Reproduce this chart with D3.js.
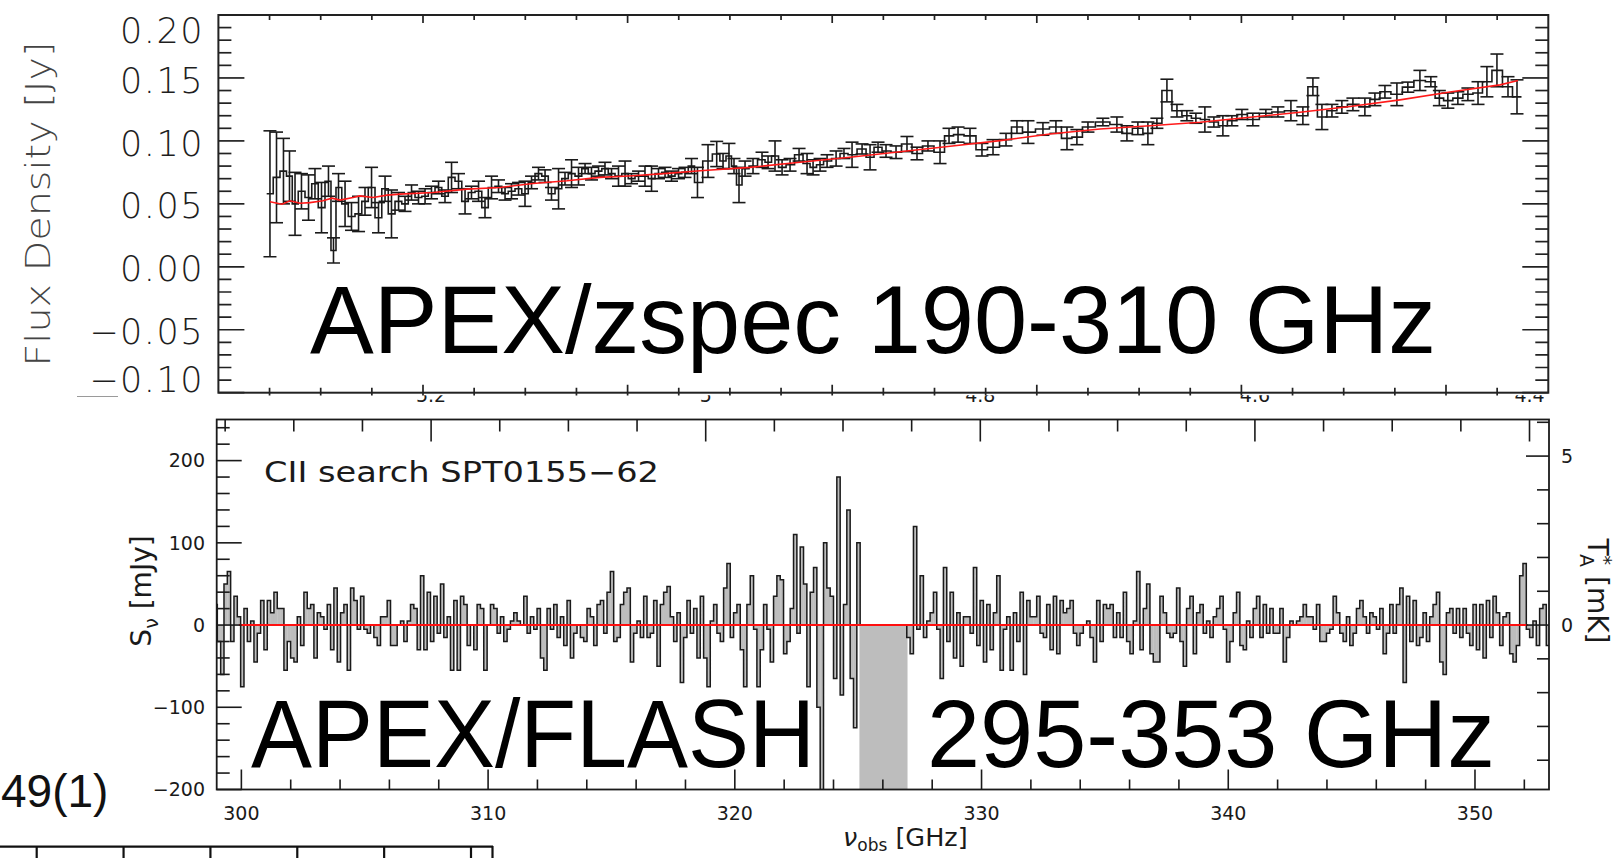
<!DOCTYPE html>
<html><head><meta charset="utf-8">
<script src="https://cdn.jsdelivr.net/npm/d3@7"></script>
<style>html,body{margin:0;padding:0;background:#fff}svg{display:block}</style>
</head><body>
<svg id="fig" width="1616" height="858"></svg>
<script>
// ---------------- Z-Spec continuum spectrum (Jy) ----------------
const zspecFreq = [
185.04,185.68,186.36,186.95,187.49,188.12,188.81,189.44,190.08,190.76,
191.25,191.74,192.38,193.01,193.70,194.33,194.97,195.65,196.29,196.92,
197.61,198.24,198.88,199.56,200.20,200.83,201.52,202.15,202.79,203.47,
204.11,204.74,205.43,206.06,206.70,207.38,208.02,208.65,209.34,209.97,
210.61,211.29,211.93,212.56,213.25,213.88,214.52,215.20,215.84,216.47,
217.16,217.79,218.43,219.11,219.75,220.38,221.07,221.70,222.34,223.02,
223.66,224.29,224.98,225.61,226.25,226.83,
227.86,228.71,229.33,229.91,230.40,230.89,231.48,232.26,233.14,233.73,
234.41,235.10,235.88,236.76,237.54,238.13,238.81,239.50,240.38,241.15,
241.94,242.92,243.70,244.48,245.26,246.24,247.31,248.29,249.36,250.54,
251.42,252.30,253.47,254.64,255.72,256.99,258.06,259.14,260.60,261.87,
262.95,263.92,265.00,266.46,267.83,268.81,269.88,270.86,271.74,
272.72,273.70,274.67,275.55,276.43,277.31,278.19,279.07,280.05,281.12,
282.39,283.57,284.84,286.01,286.99,287.87,288.85,289.82,290.90,292.07,
293.05,294.03,295.20,296.27,297.45,298.52,299.35,300.18,301.16,302.14,
303.13,304.00,304.98,306.06,306.94];
const zspecFlux = [
0.058,0.071,0.076,0.072,0.050,0.060,0.055,0.066,0.047,0.068,
0.013,0.063,0.050,0.040,0.042,0.052,0.063,0.039,0.062,0.042,
0.052,0.050,0.059,0.055,0.056,0.059,0.063,0.056,0.071,0.068,
0.052,0.059,0.060,0.047,0.063,0.064,0.058,0.060,0.062,0.058,
0.067,0.074,0.072,0.058,0.062,0.070,0.074,0.072,0.078,0.074,
0.076,0.078,0.074,0.072,0.074,0.070,0.072,0.072,0.070,0.074,
0.075,0.072,0.074,0.075,0.080,0.067,
0.084,0.0896,0.084,0.088,0.080,0.065,0.078,0.080,0.085,0.083,
0.088,0.079,0.081,0.089,0.082,0.079,0.081,0.084,0.086,0.090,
0.089,0.0936,0.087,0.095,0.092,0.091,0.0975,0.090,0.096,0.091,
0.104,0.105,0.104,0.093,0.095,0.101,0.111,0.107,0.1095,0.111,
0.102,0.103,0.111,0.115,0.113,0.106,0.110,0.106,0.114,
0.140,0.124,0.120,0.118,0.117,0.115,0.112,0.116,0.121,0.117,
0.122,0.123,0.124,0.120,0.143,0.119,0.124,0.127,0.129,0.127,
0.133,0.139,0.137,0.1427,0.148,0.147,0.134,0.132,0.134,0.137,
0.138,0.147,0.156,0.143,0.135];
const zspecErr = [
0.050,0.036,0.026,0.020,0.025,0.014,0.018,0.012,0.020,0.012,
0.010,0.011,0.018,0.011,0.014,0.011,0.016,0.012,0.010,0.019,
0.007,0.006,0.006,0.005,0.006,0.005,0.005,0.005,0.012,0.006,
0.010,0.005,0.008,0.008,0.009,0.005,0.005,0.006,0.005,0.010,
0.005,0.005,0.005,0.005,0.016,0.005,0.011,0.007,0.004,0.005,
0.004,0.005,0.004,0.008,0.010,0.004,0.004,0.008,0.010,0.004,
0.004,0.004,0.004,0.004,0.006,0.012,
0.013,0.010,0.006,0.010,0.006,0.014,0.006,0.006,0.006,0.005,
0.012,0.006,0.005,0.005,0.008,0.006,0.005,0.005,0.006,0.004,
0.010,0.004,0.010,0.004,0.005,0.005,0.006,0.005,0.004,0.009,
0.006,0.006,0.006,0.005,0.006,0.005,0.005,0.009,0.005,0.005,
0.009,0.006,0.004,0.003,0.006,0.006,0.005,0.009,0.004,
0.009,0.005,0.004,0.004,0.010,0.004,0.008,0.004,0.004,0.005,
0.003,0.004,0.008,0.007,0.007,0.010,0.005,0.005,0.005,0.007,
0.005,0.005,0.009,0.004,0.008,0.004,0.006,0.006,0.005,0.005,
0.009,0.012,0.013,0.008,0.0135];
// continuum model (red curve)
const contFreq = [185.04,186.22,187.0,187.98,188.95,190.22,191.1,191.88,193.16,193.84,
195.11,196.48,197.75,200.98,204.3,207.53,210.75,214.08,217.3,220.53,223.85,227.08,
231.97,236.85,241.74,246.63,251.52,256.41,261.29,266.18,271.07,275.95,280.84,285.73,
290.62,295.5,300.39,305.28,307.04];
const contFlux = [0.0516,0.0497,0.0524,0.0505,0.0510,0.0524,0.0545,0.0530,0.0550,0.0563,
0.0550,0.0569,0.0577,0.0590,0.0617,0.0630,0.0662,0.0683,0.0710,0.0723,0.0742,0.0763,
0.0790,0.0830,0.0870,0.0914,0.0957,0.1002,0.1055,0.1095,0.1120,0.1148,0.1188,0.1228,
0.1273,0.1326,0.1388,0.1445,0.1480];
const zspecYTicks = ["0.20","0.15","0.10","0.05","0.00","\u22120.05","\u22120.10"];

// ---------------- FLASH [CII] search spectrum (mJy) ----------------
const flashStart = 298.89;   // GHz, lower edge of first channel
const flashStep = 0.135;     // GHz per channel
const flashFlux = [
25,-20,-60,50,65,-20,35,10,-75,20, -20,5,-45,-10,30,-30,30,15,40,20,
20,-55,-20,-40,-45,10,-25,40,20,25, -40,15,10,-5,25,-30,45,-45,15,25,
-55,45,30,-5,35,-5,-10,0,-15,-25, 10,10,30,-25,-25,0,5,-20,5,25,
20,-30,60,-30,40,-20,35,-10,50,-15, 10,-55,30,-55,35,25,-25,0,-30,25,
20,-55,0,25,20,-10,10,-20,-5,5, 15,5,0,35,-10,10,-5,20,-40,-55,
20,-5,25,-15,10,-25,30,-40,-10,0, -15,-20,20,10,-25,25,30,-10,40,65,
-20,-15,25,40,45,-45,-10,5,-15,35, -15,-10,30,-50,25,
40,47,10,-20,15,-70,-15,30,-10,
20,-40,35,-40,-75,5,25,-10,-20,45, 75,-15,15,25,-30,-75,25,60,-5,-75,
-30,25,-5,-45,35,60,55,-35,-20,20, 110,-10,95,50,-75,40,70,-100,-240,100,
45,35,-65,180,-85,25,140,-65,-125,100,
null,null,null,null,null,null,null,null,null,null,null,null,null,null,
-15,-35,120,-5,60,-15,5,15,40,-5, -65,70,-20,40,-40,15,-50,10,10,-10,
70,-25,30,-45,25,-30,15,60,-55,-5, 10,-55,15,-20,40,-60,30,10,10,35,
-10,-15,25,-30,35,-35,30,15,20,30, -10,-25,-10,0,5,-15,-45,30,-20,25,
20,
25,-15,15,-15,40,-20,-35,5,
65,-30,20,50,-35,-45,-45,35,15,-10, -15,-10,45,-20,-50,20,35,-35,15,25,
-10,5,-15,10,20,35,-5,-45,-20,15, 40,-25,-30,5,-15,20,35,-15,25,-10,
20,-10,-10,20,-45,-15,5,0,5,10, 25,10,10,-5,25,-20,-20,-10,-5,35,
15,-10,-20,10,-25,-10,20,30,10,-10, 15,10,-5,20,-35,-10,25,-10,25,45,
-70,35,-20,30,-25,-15,15,-20,10,25, 40,-45,-60,15,20,-10,20,-15,20,-10,
-25,25,-30,25,-40,30,-15,35,15,-25, 10,15,-35,-45,-25,60,75,-5,-15,5,
-25,20,25,-25];
const flashMask = [325.05, 327.0];      // blanked band (GHz)
const flashZeroSpan = [299.9, 352.15];  // extent of the baseline
const mJyPerMilliK = 41.1;              // flux / antenna temperature conversion
const redshiftLabels = [[5.2,"5.2"],[5.0,"5"],[4.8,"4.8"],[4.6,"4.6"],[4.4,"4.4"]];
const flashYLabels = [200,100,0,-100,-200];
const flashXLabels = [300,310,320,330,340,350];

const svg = d3.select("#fig");
const ink = "#1a1a1a";
const thinFont = "'DejaVu Sans', sans-serif";
const bigFont = "'Liberation Sans', Arial, sans-serif";
const minus = s => String(s).replace("-", "\u2212");

// ================= lower panel: FLASH =================
const xF = d3.scaleLinear().domain([299, 353]).range([216.7, 1549]);
const yF = d3.scaleLinear().domain([-200, 250]).range([789.5, 419.5]);
const yK = d3.scaleLinear().domain([-200 / mJyPerMilliK, 250 / mJyPerMilliK]).range([789.5, 419.5]);
const zGHz = d3.scaleLinear().domain([5.2, 4.4]).range([307.69, 352.21]);

const defs = svg.append("defs");
defs.append("clipPath").attr("id", "flashClip").append("rect")
  .attr("x", xF(299)).attr("y", yF(250)).attr("width", xF(353) - xF(299)).attr("height", yF(-200) - yF(250));

const lower = svg.append("g");
const plot = lower.append("g").attr("clip-path", "url(#flashClip)");

plot.append("rect")
  .attr("x", xF(flashMask[0])).attr("width", xF(flashMask[1]) - xF(flashMask[0]))
  .attr("y", yF(0)).attr("height", yF(-200) - yF(0)).attr("fill", "#bdbdbd");

const chans = flashFlux.map((v, i) => ({ lo: flashStart + i * flashStep, hi: flashStart + (i + 1) * flashStep, v }));
const valid = chans.filter(c => c.v !== null);
plot.selectAll("rect.bar").data(valid).join("rect").attr("class", "bar")
  .attr("x", c => xF(c.lo)).attr("width", c => xF(c.hi) - xF(c.lo) + 0.3)
  .attr("y", c => Math.min(yF(c.v), yF(0))).attr("height", c => Math.abs(yF(c.v) - yF(0)))
  .attr("fill", "#bdbdbd");

// histogram outline, one path per contiguous run of channels
const runs = [];
let cur = null;
chans.forEach(c => {
  if (c.v === null) { cur = null; return; }
  if (!cur) { cur = []; runs.push(cur); }
  cur.push(c);
});
runs.forEach(run => {
  let d = `M${xF(run[0].lo)},${yF(0)}`;
  run.forEach(c => { d += `V${yF(c.v)}H${xF(c.hi)}`; });
  d += `V${yF(0)}`;
  plot.append("path").attr("d", d).attr("fill", "none").attr("stroke", ink).attr("stroke-width", 1.5);
});

plot.append("line").attr("x1", xF(flashZeroSpan[0])).attr("x2", xF(flashZeroSpan[1]))
  .attr("y1", yF(0)).attr("y2", yF(0)).attr("stroke", "#ff1010").attr("stroke-width", 2);

// frame and ticks
const lx0 = xF(299), lx1 = xF(353), ly0 = yF(250), ly1 = yF(-200);
lower.append("rect").attr("x", lx0).attr("y", ly0).attr("width", lx1 - lx0).attr("height", ly1 - ly0)
  .attr("fill", "none").attr("stroke", ink).attr("stroke-width", 1.8);
const tk = lower.append("g").attr("stroke", ink).attr("stroke-width", 1.6);
d3.range(-200, 251, 20).forEach(v => {
  const L = v % 100 === 0 ? 25 : 13;
  tk.append("line").attr("x1", lx0).attr("x2", lx0 + L).attr("y1", yF(v)).attr("y2", yF(v));
});
d3.range(-4, 7).forEach(k => {
  const L = k % 5 === 0 ? 23 : 12;
  tk.append("line").attr("x1", lx1).attr("x2", lx1 - L).attr("y1", yK(k)).attr("y2", yK(k));
});
d3.range(300, 353, 2).forEach(f => {
  const L = f % 10 === 0 ? 20 : 10;
  tk.append("line").attr("x1", xF(f)).attr("x2", xF(f)).attr("y1", ly1).attr("y2", ly1 - L);
});
d3.range(435, 536, 5).map(k => k / 100).forEach(z => {
  const x = xF(zGHz(z));
  if (x < lx0 || x > lx1) return;
  const major = Math.round(z * 100) % 20 === 0;
  tk.append("line").attr("x1", x).attr("x2", x).attr("y1", ly0).attr("y2", ly0 + (major ? 22 : 12));
});

const lbl = lower.append("g").attr("font-family", thinFont).attr("fill", ink);
flashYLabels.forEach(v => lbl.append("text").attr("x", 205).attr("y", yF(v)).attr("dy", "0.36em")
  .attr("text-anchor", "end").attr("font-size", 19).text(minus(v)));
flashXLabels.forEach(v => lbl.append("text").attr("x", xF(v)).attr("y", 819.5)
  .attr("text-anchor", "middle").attr("font-size", 19).text(v));
[5, 0].forEach(v => lbl.append("text").attr("x", 1561).attr("y", yK(v)).attr("dy", "0.36em")
  .attr("font-size", 19).text(v));
// redshift axis labels: their upper part lies under the Z-Spec panel
redshiftLabels.forEach(([z, s]) => lbl.append("text").attr("x", xF(zGHz(z))).attr("y", 402)
  .attr("text-anchor", "middle").attr("font-size", 19).text(s));

lbl.append("text").attr("x", 264).attr("y", 481.7).attr("font-size", 28)
  .attr("textLength", 395).attr("lengthAdjust", "spacingAndGlyphs").text("CII search SPT0155\u221262");

const sLab = lbl.append("text").attr("transform", "translate(151,591) rotate(-90)")
  .attr("text-anchor", "middle").attr("font-size", 28);
sLab.append("tspan").text("S");
sLab.append("tspan").attr("font-size", 19).attr("dy", 7).text("\u03bd");
sLab.append("tspan").attr("dy", -7).text(" [mJy]");

const tLab = lbl.append("text").attr("transform", "translate(1588,591) rotate(90)")
  .attr("text-anchor", "middle").attr("font-size", 28);
tLab.append("tspan").text("T");
tLab.append("tspan").attr("font-size", 19).attr("dy", -10).text("*");
tLab.append("tspan").attr("font-size", 19).attr("dx", -11).attr("dy", 18).text("A");
tLab.append("tspan").attr("dy", -8).text(" [mK]");

const nLab = lbl.append("text").attr("x", 843).attr("y", 846).attr("font-size", 25.5);
nLab.append("tspan").attr("font-style", "italic").text("\u03bd");
nLab.append("tspan").attr("font-size", 17).attr("dy", 5).text("obs");
nLab.append("tspan").attr("dy", -5).text(" [GHz]");

lower.append("text").attr("x", 251).attr("y", 766.7).attr("font-family", bigFont).attr("font-size", 97)
  .attr("textLength", 564).attr("lengthAdjust", "spacingAndGlyphs").text("APEX/FLASH");
lower.append("text").attr("x", 927).attr("y", 766.7).attr("font-family", bigFont).attr("font-size", 97)
  .attr("textLength", 568).attr("lengthAdjust", "spacingAndGlyphs").text("295-353 GHz");

// ================= upper panel: Z-Spec =================
const xZ = d3.scaleLinear().domain([180, 310]).range([218.4, 1548.3]);
const yZ = d3.scaleLinear().domain([-0.10, 0.20]).range([392.7, 15]);

defs.append("clipPath").attr("id", "upperClip").append("rect")
  .attr("x", 0).attr("y", 0).attr("width", 1616).attr("height", 395.5);
const upper = svg.append("g").attr("clip-path", "url(#upperClip)");
upper.append("rect").attr("x", 0).attr("y", 0).attr("width", 1616).attr("height", 395.5).attr("fill", "#fff");

// channel edges halfway between centres
const edges = zspecFreq.map((f, i) => {
  const prev = i > 0 ? zspecFreq[i - 1] : f - (zspecFreq[1] - zspecFreq[0]);
  const next = i < zspecFreq.length - 1 ? zspecFreq[i + 1] : f + (f - zspecFreq[i - 1]);
  return [(prev + f) / 2, (f + next) / 2];
});
let sd = "";
zspecFlux.forEach((v, i) => {
  sd += (i === 0 ? `M${xZ(edges[i][0])},${yZ(v)}` : `V${yZ(v)}`) + `H${xZ(edges[i][1])}`;
});
upper.append("path").attr("d", sd).attr("fill", "none").attr("stroke", ink).attr("stroke-width", 1.6);
const eb = upper.append("g").attr("stroke", ink).attr("stroke-width", 1.6);
zspecFreq.forEach((f, i) => {
  const x = xZ(f), hi = yZ(zspecFlux[i] + zspecErr[i]), lo = yZ(zspecFlux[i] - zspecErr[i]);
  eb.append("line").attr("x1", x).attr("x2", x).attr("y1", hi).attr("y2", lo);
  eb.append("line").attr("x1", x - 6.5).attr("x2", x + 6.5).attr("y1", hi).attr("y2", hi);
  eb.append("line").attr("x1", x - 6.5).attr("x2", x + 6.5).attr("y1", lo).attr("y2", lo);
});
upper.append("path").datum(contFreq.map((f, i) => [f, contFlux[i]]))
  .attr("d", d3.line().x(p => xZ(p[0])).y(p => yZ(p[1])))
  .attr("fill", "none").attr("stroke", "#ff1a1a").attr("stroke-width", 1.6);

const ux0 = xZ(180), ux1 = xZ(310), uy0 = yZ(0.20), uy1 = yZ(-0.10);
upper.append("rect").attr("x", ux0).attr("y", uy0).attr("width", ux1 - ux0).attr("height", uy1 - uy0)
  .attr("fill", "none").attr("stroke", "#222").attr("stroke-width", 2);
const ut = upper.append("g").attr("stroke", "#222").attr("stroke-width", 1.7);
d3.range(-10, 21).forEach(k => {
  const v = k / 100, L = k % 5 === 0 ? 26 : 13;
  ut.append("line").attr("x1", ux0).attr("x2", ux0 + L).attr("y1", yZ(v)).attr("y2", yZ(v));
  ut.append("line").attr("x1", ux1).attr("x2", ux1 - L).attr("y1", yZ(v)).attr("y2", yZ(v));
});
d3.range(185, 310, 5).forEach(f => {
  const L = f % 20 === 0 ? 8 : 5;
  ut.append("line").attr("x1", xZ(f)).attr("x2", xZ(f)).attr("y1", uy0).attr("y2", uy0 + L);
  ut.append("line").attr("x1", xZ(f)).attr("x2", xZ(f)).attr("y1", uy1 + 4).attr("y2", uy1 - L);
});

const ul = upper.append("g").attr("font-family", thinFont).attr("font-weight", 200).attr("fill", "#1e1e1e");
zspecYTicks.forEach((s, i) => {
  const v = 0.20 - 0.05 * i;
  const y = Math.min(379.5, Math.max(30.5, yZ(v) + 2));
  ul.append("text").attr("x", 204).attr("y", y).attr("dy", "0.36em").attr("text-anchor", "end")
    .attr("font-size", 35).attr("letter-spacing", 1.5).text(s);
});
ul.append("text").attr("transform", "translate(38,204) rotate(-90)").attr("dy", "0.36em")
  .attr("text-anchor", "middle").attr("font-size", 34).attr("textLength", 325)
  .attr("lengthAdjust", "spacingAndGlyphs").attr("fill", "#444").text("Flux Density [Jy]");

upper.append("text").attr("x", 310).attr("y", 353).attr("font-family", bigFont).attr("font-size", 97)
  .attr("textLength", 1126).attr("lengthAdjust", "spacingAndGlyphs").attr("fill", "#000")
  .text("APEX/zspec 190-310 GHz");

// ================= pieces of the neighbouring figure =================
svg.append("line").attr("x1", 77).attr("x2", 118).attr("y1", 396.5).attr("y2", 396.5)
  .attr("stroke", "#9a9a9a").attr("stroke-width", 1.2);
const stripX = d3.scaleLinear().domain([0, 5]).range([36.7, 471]);
const strip = svg.append("g").attr("stroke", "#111").attr("stroke-width", 2.2);
strip.append("line").attr("x1", 0).attr("x2", 493).attr("y1", 846.7).attr("y2", 846.7);
d3.range(0, 6).forEach(k => strip.append("line").attr("x1", stripX(k)).attr("x2", stripX(k))
  .attr("y1", 846.7).attr("y2", 858));
strip.append("line").attr("x1", 492.5).attr("x2", 492.5).attr("y1", 846).attr("y2", 858);
svg.append("text").attr("x", 1).attr("y", 807).attr("font-family", bigFont).attr("font-size", 46)
  .attr("fill", "#111").text("49(1)");
</script>
</body></html>
